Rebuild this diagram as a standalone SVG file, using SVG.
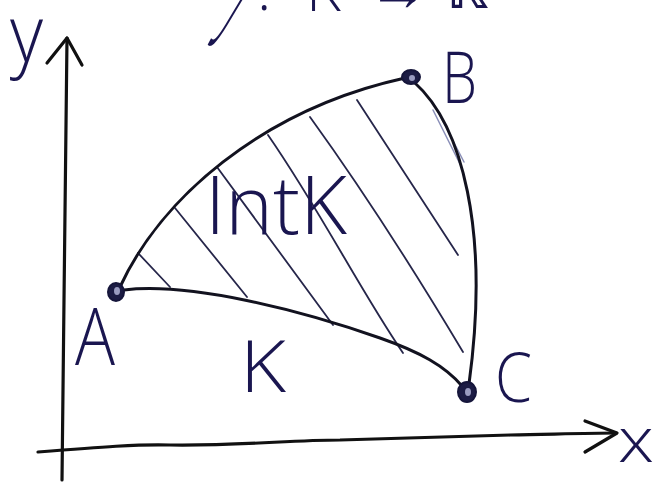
<svg xmlns="http://www.w3.org/2000/svg" width="668" height="484" viewBox="0 0 668 484">
<style>
.ln{fill:none;stroke:#12121f;stroke-width:3;stroke-linecap:round;stroke-linejoin:round}
.ax{fill:none;stroke:#111;stroke-width:3.2;stroke-linecap:round;stroke-linejoin:round}
.ht{fill:none;stroke:#26264a;stroke-width:1.8;stroke-linecap:round}
.hl{fill:none;stroke:#8a8fb8;stroke-width:1.5;stroke-linecap:round}
.lb{font-family:"Open Sans","Liberation Sans",sans-serif;font-weight:300;fill:#1a1650}
.pt{fill:#1c1c44;stroke:#15153a;stroke-width:2}
.pc{fill:#9a9cc0}
</style>
<rect width="668" height="484" fill="#ffffff"/>
<g id="title">
<text class="lb" transform="translate(232,10) skewX(-28) scale(0.32,1)" font-family="Liberation Serif,serif" font-style="italic" font-weight="400" font-size="150">f</text>
<text class="lb" y="10" font-size="60"><tspan x="257" y="10">:</tspan><tspan x="306" y="11">K</tspan><tspan x="368" y="10">→</tspan><tspan x="446" y="8" font-family="DejaVu Sans,sans-serif">ℝ</tspan></text>
</g>
<g id="axes">
<path class="ax" d="M62,480 L64,300 L67,38"/>
<path class="ax" d="M47,63 L67,38 L82,65"/>
<path class="ax" d="M38,452 C100,447 140,444 170,445 C240,446 290,440 340,440 C420,438 470,436 510,435 C560,434 590,433 616,433"/>
<path class="ax" d="M585,421 L617,433 L585,452"/>
<text class="lb" x="618" y="462" font-size="62" textLength="36" lengthAdjust="spacingAndGlyphs">x</text>
<text class="lb" x="10" y="62" font-size="80" textLength="33" lengthAdjust="spacingAndGlyphs">y</text>
</g>
<g id="hatching">
<path class="ht" d="M138,253 L170,287"/>
<path class="ht" d="M175,208 L247,297"/>
<path class="ht" d="M217,167 L333,325"/>
<path class="ht" d="M268,135 C320,210 360,290 403,353"/>
<path class="ht" d="M310,117 C370,200 420,280 463,352"/>
<path class="ht" d="M357,100 L458,255"/>
<path class="hl" d="M433,110 L461,166 M437,110 L464,162"/>
</g>
<g id="connectors">
<path id="edge-AB" class="ln" d="M120,287 C160,200 260,110 405,78"/>
<path id="edge-BC" class="ln" d="M414,82 C462,125 490,230 469,384"/>
<path id="edge-AC" class="ln" d="M124,290 C190,282 300,310 380,338 C420,352 445,366 462,386"/>
</g>
<g id="A">
<ellipse class="pt" cx="116" cy="292" rx="8" ry="9"/>
<ellipse class="pc" cx="117" cy="291" rx="3" ry="4"/>
<text class="lb" x="75" y="365" font-size="79" textLength="40" lengthAdjust="spacingAndGlyphs">A</text>
</g>
<g id="B">
<ellipse class="pt" cx="411" cy="77" rx="9" ry="7"/>
<ellipse class="pc" cx="412" cy="78" rx="3" ry="3"/>
<text class="lb" x="442" y="103" font-size="71" textLength="35" lengthAdjust="spacingAndGlyphs">B</text>
</g>
<g id="C">
<ellipse class="pt" cx="467" cy="392" rx="9" ry="10"/>
<ellipse class="pc" cx="468" cy="392" rx="3" ry="4"/>
<text class="lb" x="495" y="402" font-size="68" textLength="37" lengthAdjust="spacingAndGlyphs">C</text>
</g>
<g id="IntK">
<text class="lb" x="205" y="234" font-size="82" textLength="142" lengthAdjust="spacingAndGlyphs">IntK</text>
</g>
<g id="K">
<text class="lb" x="240" y="392" font-size="72" textLength="46" lengthAdjust="spacingAndGlyphs">K</text>
</g>
</svg>
